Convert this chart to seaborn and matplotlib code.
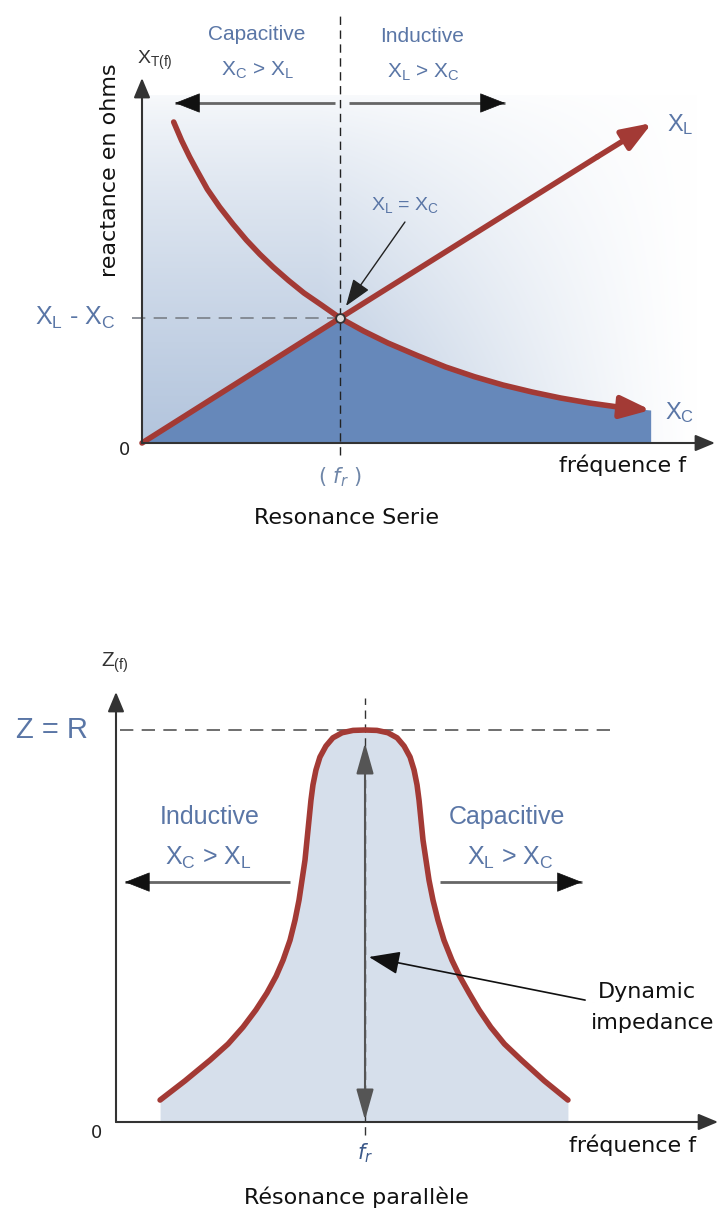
import numpy as np
import matplotlib
matplotlib.use("Agg")
import matplotlib.pyplot as plt
import seaborn as sns

# ---- data (units: f / f_r and X / X_r) ----
# series resonance
xl_f = [0.0, 1.0, 2.30, 2.576]
xl_vals = [0.0, 1.0, 2.29, 2.56]
xc_f = [0.16, 0.20, 0.24, 0.276, 0.33, 0.392, 0.46, 0.527, 0.595, 0.662, 0.74, 0.818, 0.91,
        1.0, 1.12, 1.242, 1.39, 1.534, 1.68, 1.823, 1.97, 2.114, 2.26, 2.404, 2.569]
xc_vals = [2.568, 2.42, 2.29, 2.184, 2.03, 1.888, 1.75, 1.624, 1.51, 1.408, 1.30, 1.2, 1.10,
           1.0, 0.895, 0.8, 0.70, 0.608, 0.53, 0.464, 0.408, 0.36, 0.32, 0.288, 0.264]

# parallel resonance (Z / R)
z_f = [0.177, 0.277, 0.378, 0.450, 0.510, 0.562, 0.606, 0.643, 0.671, 0.699, 0.719, 0.735,
       0.747, 0.759, 0.767, 0.775, 0.783, 0.791, 0.803, 0.819, 0.843, 0.871, 0.908, 0.952,
       1.0,
       1.048, 1.092, 1.129, 1.157, 1.181, 1.197, 1.209, 1.217, 1.225, 1.233, 1.245, 1.257,
       1.273, 1.293, 1.317, 1.349, 1.380, 1.418, 1.458, 1.505, 1.560, 1.628, 1.720, 1.815]
z_vals = [0.056, 0.105, 0.158, 0.199, 0.242, 0.286, 0.329, 0.372, 0.413, 0.464, 0.515, 0.566,
          0.617, 0.668, 0.719, 0.770, 0.821, 0.860, 0.898, 0.931, 0.959, 0.980, 0.993, 0.999,
          1.0,
          0.999, 0.993, 0.980, 0.959, 0.931, 0.898, 0.860, 0.821, 0.770, 0.719, 0.668, 0.617,
          0.566, 0.515, 0.464, 0.413, 0.372, 0.329, 0.286, 0.242, 0.199, 0.158, 0.105, 0.056]

RED = "#a33a35"
DARK = "#6688ba"
BLUE_TXT = "#5a76a6"
LIGHT = "#d6dfeb"

sns.set_theme(style="white")
plt.rcParams["font.family"] = ["DejaVu Sans"]
plt.rcParams["mathtext.default"] = "regular"

fig = plt.figure(figsize=(7.2, 12.13), dpi=100)
H = 1213.0


def side_arrow(ax, x0, x1, y, head=0.09):
    # grey shaft, black head
    ax.plot([x0, x1], [y, y], color="#666666", lw=2, solid_capstyle="butt", zorder=4)
    d = head if x1 > x0 else -head
    ax.annotate("", xy=(x1, y), xytext=(x1 - d, y), zorder=5,
                arrowprops=dict(arrowstyle="-|>,head_length=1.4,head_width=0.55",
                                color="#111111", lw=0.5, mutation_scale=12,
                                shrinkA=0, shrinkB=0))


# top axes: pixel rows 0..580, origin at px (142, 443)
ax1 = fig.add_axes([0, 1 - 580 / H, 1, 580 / H])
ax1.set_xlim((0 - 142) / 198, (720 - 142) / 198)
ax1.set_ylim((443 - 580) / 125, 443 / 125)
ax1.axis("off")

# background gradient
gx = np.linspace(0, 2.818, 300)
gy = np.linspace(0, 2.784, 200)
GX, GY = np.meshgrid(gx, gy)
wx = np.clip(1 - (GX - 0.9) / 1.9, 0, 1) ** 1.2
wy = 0.1 + 0.9 * (1 - GY / 2.784) ** 0.8
w = wx * wy
base = np.array([0.70, 0.77, 0.865])
img = np.ones((200, 300, 3)) - w[..., None] * (1 - base)
ax1.imshow(img, origin="lower", extent=[0, 2.818, 0, 2.784], aspect="auto",
           interpolation="bilinear", zorder=0)

# dark fill under min(XL, XC)
fill_f = xl_f[:2] + [f for f in xc_f if f > 1.0]
fill_y = xl_vals[:2] + [v for f, v in zip(xc_f, xc_vals) if f > 1.0]
ax1.fill_between(fill_f, 0, fill_y, color=DARK, lw=0, zorder=1)

sns.lineplot(x=xl_f[:-1], y=xl_vals[:-1], ax=ax1, color=RED, lw=4, zorder=3,
             solid_capstyle="round")
sns.lineplot(x=xc_f[:-1], y=xc_vals[:-1], ax=ax1, color=RED, lw=4, zorder=3,
             solid_capstyle="round", solid_joinstyle="round", sort=False)
red_head = dict(arrowstyle="-|>,head_length=1.2,head_width=0.45", color=RED, lw=4,
                mutation_scale=15, shrinkA=0, shrinkB=0)
ax1.annotate("", xy=(xl_f[-1], xl_vals[-1]), xytext=(xl_f[-2], xl_vals[-2]),
             arrowprops=red_head, zorder=4)
ax1.annotate("", xy=(xc_f[-1], xc_vals[-1]), xytext=(xc_f[-2], xc_vals[-2]),
             arrowprops=red_head, zorder=4)

ax_head = dict(arrowstyle="-|>,head_length=1.2,head_width=0.5", color="#333333", lw=1.5,
               mutation_scale=10, shrinkA=0, shrinkB=0)
ax1.annotate("", xy=(0, 2.92), xytext=(0, 0), arrowprops=ax_head, zorder=5)
ax1.annotate("", xy=(2.894, 0), xytext=(0, 0), arrowprops=ax_head, zorder=5)

# guides
ax1.plot([1.0, 1.0], [-0.096, 3.44], color="#222222", lw=1, dashes=(6, 4), zorder=2)
ax1.plot([-0.05, 1.0], [1.0, 1.0], color="#7a7f88", lw=1.2, dashes=(8, 5), zorder=2)
ax1.scatter([xl_f[1]], [xl_vals[1]], s=40, facecolor="#dddddd", edgecolor="#333333",
            linewidth=1.3, zorder=6)

side_arrow(ax1, 0.975, 0.167, 2.72)
side_arrow(ax1, 1.045, 1.833, 2.72)
ax1.annotate("", xy=(1.03, 1.096), xytext=(1.328, 1.768),
             arrowprops=dict(arrowstyle="-|>,head_length=1.4,head_width=0.5", color="#222222",
                             lw=1, mutation_scale=12, shrinkA=0, shrinkB=0), zorder=6)

bt = dict(color=BLUE_TXT, family="Liberation Sans", ha="center", va="center")
ax1.text(0.581, 3.264, "Capacitive", fontsize=15, **bt)
ax1.text(0.581, 2.984, "X$_C$ > X$_L$", fontsize=15, **bt)
ax1.text(1.414, 3.248, "Inductive", fontsize=15, **bt)
ax1.text(1.419, 2.968, "X$_L$ > X$_C$", fontsize=15, **bt)
ax1.text(1.328, 1.904, "X$_L$ = X$_C$", fontsize=14, **bt)
ax1.text(-0.338, 1.0, "X$_L$ - X$_C$", fontsize=18, **bt)
ax1.text(2.717, 2.544, "X$_L$", fontsize=17, **bt)
ax1.text(2.717, 0.24, "X$_C$", fontsize=17, **bt)
ax1.text(0.066, 3.064, "X$_{T(f)}$", fontsize=14, color="#333333", ha="center", va="center",
         family="Liberation Sans")
ax1.text(-0.162, 2.184, "reactance en ohms", fontsize=16, rotation=90, ha="center",
         va="center", color="#111111")
ax1.text(-0.086, -0.056, "0", fontsize=13, ha="center", va="center", color="#222222")
ax1.text(1.0, -0.272, "( $\\mathit{f_r}$ )", fontsize=15, ha="center", va="center",
         color="#6f86a8")
ax1.text(2.429, -0.176, "fréquence f", fontsize=16, ha="center", va="center", color="#111111")
ax1.text(1.035, -0.6, "Resonance Serie", fontsize=16, ha="center", va="center",
         color="#111111")

# bottom axes: pixel rows 590..1213, origin at px (116, 1122)
ax2 = fig.add_axes([0, 0, 1, 623 / H])
ax2.set_xlim((0 - 116) / 249, (720 - 116) / 249)
ax2.set_ylim((1122 - 1213) / 392, (1122 - 590) / 392)
ax2.axis("off")

ax2.fill_between(z_f, 0, z_vals, color=LIGHT, lw=0, zorder=1)
sns.lineplot(x=z_f, y=z_vals, ax=ax2, color=RED, lw=4, zorder=3, sort=False,
             solid_capstyle="round", solid_joinstyle="round")

ax2.annotate("", xy=(0, 1.097), xytext=(0, 0), arrowprops=ax_head, zorder=5)
ax2.annotate("", xy=(2.418, 0), xytext=(0, 0), arrowprops=ax_head, zorder=5)
ax2.plot([0.016, 2.012], [1.0, 1.0], color="#555555", lw=1.2, dashes=(8, 5), zorder=2)
ax2.plot([1.0, 1.0], [-0.033, 1.082], color="#333333", lw=1, dashes=(6, 4), zorder=2)
ax2.annotate("", xy=(1.0, 0.967), xytext=(1.0, 0.005),
             arrowprops=dict(arrowstyle="<|-|>,head_length=1.6,head_width=0.45",
                             color="#555555", lw=1.5, mutation_scale=12, shrinkA=0,
                             shrinkB=0), zorder=4)
side_arrow(ax2, 0.699, 0.036, 0.612, head=0.07)
side_arrow(ax2, 1.301, 1.871, 0.612, head=0.07)
ax2.annotate("", xy=(1.016, 0.421), xytext=(1.884, 0.311),
             arrowprops=dict(arrowstyle="-|>,head_length=1.6,head_width=0.6", color="#111111",
                             lw=1.2, mutation_scale=12, shrinkA=0, shrinkB=0), zorder=6)

ax2.text(0.378, 0.778, "Inductive", fontsize=18, **bt)
ax2.text(0.369, 0.673, "X$_C$ > X$_L$", fontsize=18, **bt)
ax2.text(1.570, 0.778, "Capacitive", fontsize=18, **bt)
ax2.text(1.582, 0.673, "X$_L$ > X$_C$", fontsize=18, **bt)
ax2.text(-0.257, 1.0, "Z = R", fontsize=21, **bt)
ax2.text(-0.004, 1.171, "Z$_{(f)}$", fontsize=15, color="#333333", ha="center", va="center",
         family="Liberation Sans")
ax2.text(2.133, 0.332, "Dynamic", fontsize=16, ha="center", va="center", color="#111111")
ax2.text(2.153, 0.253, "impedance", fontsize=16, ha="center", va="center", color="#111111")
ax2.text(-0.08, -0.028, "0", fontsize=13, ha="center", va="center", color="#222222")
ax2.text(2.076, -0.059, "fréquence f", fontsize=16, ha="center", va="center", color="#111111")
ax2.text(1.0, -0.079, "$\\mathit{f_r}$", fontsize=15, ha="center", va="center",
         color="#3d5a8a")
ax2.text(0.964, -0.191, "Résonance parallèle", fontsize=16, ha="center", va="center",
         color="#111111")

fig.savefig("out.png", dpi=100)
